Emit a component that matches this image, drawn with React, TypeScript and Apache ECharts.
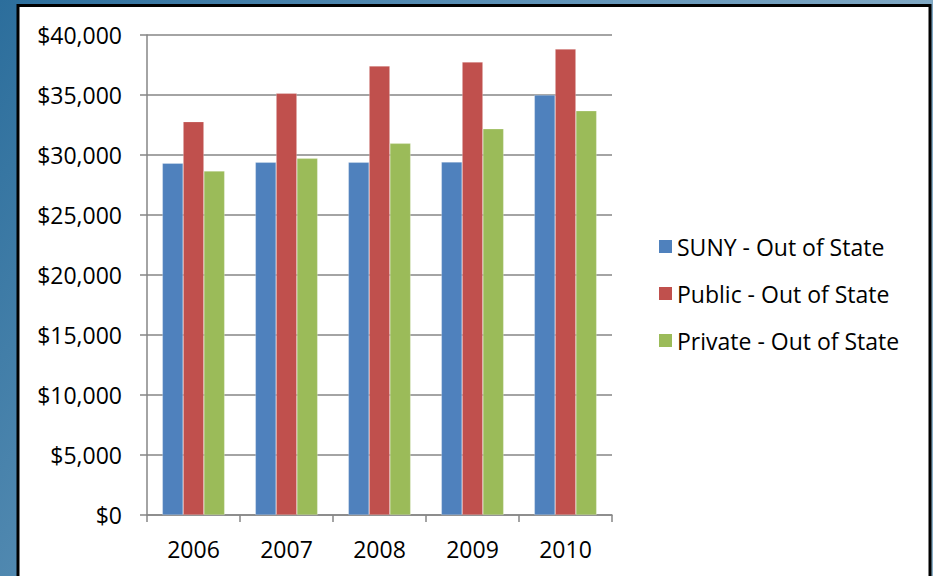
import React, { useEffect, useRef } from "react";
import * as echarts from "echarts";

const years = ["2006", "2007", "2008", "2009", "2010"];
const sunyOut = [29310, 29390, 29390, 29420, 35000];
const publicOut = [32780, 35140, 37420, 37750, 38830];
const privateOut = [28670, 29720, 30970, 32190, 33690];
const seriesNames = ["SUNY - Out of State", "Public - Out of State", "Private - Out of State"];
const colors = ["#4F81BD", "#C0504D", "#9BBB59"];

const FONT = "Open Sans";

export default function App() {
  const ref = useRef<HTMLDivElement>(null);
  useEffect(() => {
    if (!ref.current) return;
    const chart = echarts.init(ref.current, null, { renderer: "svg" });
    const mk = (name: string, data: number[], color: string) => ({
      name,
      type: "bar",
      data,
      barGap: "0%",
      barCategoryGap: "33%",
      itemStyle: { color, borderColor: "rgba(255,255,255,0.5)", borderWidth: 0.5 },
    });
    chart.setOption({
      animation: false,
      backgroundColor: {
        type: "linear",
        x: 0,
        y: 0,
        x2: 1,
        y2: 0.4,
        colorStops: [
          { offset: 0, color: "#2c6e9c" },
          { offset: 0.5, color: "#5f93b8" },
          { offset: 1, color: "#8cb0c8" },
        ],
      },
      graphic: [
        {
          type: "rect",
          z: -10,
          shape: { x: 18, y: 5.5, width: 912, height: 620 },
          style: { fill: "#ffffff", stroke: "#000000", lineWidth: 3 },
        },
      ],
      grid: { left: 147, right: 321, top: 35, bottom: 61, containLabel: false },
      legend: {
        orient: "vertical",
        left: 654,
        top: 230,
        itemWidth: 13,
        itemHeight: 13,
        itemGap: 24,
        itemStyle: { borderWidth: 0 },
        icon: "rect",
        data: seriesNames,
        textStyle: { fontFamily: FONT, fontSize: 23, color: "#000" },
      },
      xAxis: {
        type: "category",
        data: years,
        axisLine: { lineStyle: { color: "#868686", width: 1.5 } },
        axisTick: { show: true, length: 7, alignWithLabel: false, lineStyle: { color: "#868686", width: 1.5 } },
        axisLabel: { fontFamily: FONT, fontSize: 23, color: "#000", margin: 22 },
      },
      yAxis: {
        type: "value",
        min: 0,
        max: 40000,
        interval: 5000,
        axisLine: { show: true, lineStyle: { color: "#868686", width: 1.5 } },
        axisTick: { show: true, length: 7, lineStyle: { color: "#868686", width: 1.5 } },
        splitLine: { lineStyle: { color: "#868686", width: 1.5 } },
        axisLabel: {
          fontFamily: FONT,
          fontSize: 23,
          color: "#000",
          margin: 25,
          formatter: (v: number) => "$" + v.toLocaleString("en-US"),
        },
      },
      series: [
        mk(seriesNames[0], sunyOut, colors[0]),
        mk(seriesNames[1], publicOut, colors[1]),
        mk(seriesNames[2], privateOut, colors[2]),
      ],
    });
    return () => chart.dispose();
  }, []);
  return (
    <div
      ref={ref}
      style={{ position: "fixed", left: 0, top: 0, width: 933, height: 576 }}
    />
  );
}
